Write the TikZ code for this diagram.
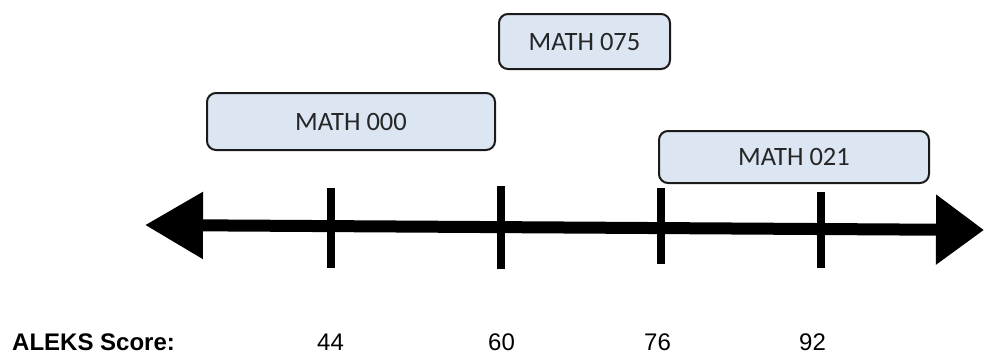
\documentclass[tikz,border=0pt]{standalone}
\usepackage{fontspec}
\setmainfont{Liberation Sans}
\newfontfamily\boxfont{Carlito}
\usetikzlibrary{arrows.meta}
\definecolor{boxfill}{HTML}{DCE6F3}
\definecolor{boxline}{HTML}{1A1A1A}
\tikzset{
  course/.style={draw=boxline, line width=2pt, fill=boxfill, rounded corners=9pt,
    inner sep=0pt, font=\boxfont\fontsize{26.5}{30}\selectfont, text=black!85},
  tickmark/.style={line width=8pt},
  scorelbl/.style={anchor=base, font=\fontsize{24}{28}\selectfont},
}
\begin{document}
\begin{tikzpicture}[x=1pt,y=-1pt]
\useasboundingbox (0,0) rectangle (984,356);
% boxes
\node[course, minimum width=171pt, minimum height=55pt] (m075) at (584.5,41.5) {MATH 075};
\node[course, minimum width=288pt, minimum height=57pt] (m000) at (351,121.5) {MATH 000};
\node[course, minimum width=270pt, minimum height=52pt] (m021) at (794,157) {MATH 021};
% axis
\coordinate (L) at (145,225);
\coordinate (R) at (984,230);
\draw[line width=12pt, {Triangle[length=58pt,width=64pt]}-{Triangle[length=48pt,width=67pt]}] (L) -- (R);
% ticks
\coordinate (t1a) at (331,188); \coordinate (t1b) at (331,268);
\coordinate (t2a) at (501,186); \coordinate (t2b) at (501,269);
\coordinate (t3a) at (661,188); \coordinate (t3b) at (661,264);
\coordinate (t4a) at (821,192); \coordinate (t4b) at (821,268);
\draw[tickmark] (t1a) -- (t1b);
\draw[tickmark] (t2a) -- (t2b);
\draw[tickmark] (t3a) -- (t3b);
\draw[tickmark] (t4a) -- (t4b);
% labels
\node[scorelbl, anchor=base west, font=\bfseries\fontsize{24}{28}\selectfont, inner xsep=0pt] (aleks) at (12,350) {ALEKS Score:};
\node[scorelbl] (s44) at (330.5,350) {44};
\node[scorelbl] (s60) at (501.5,350) {60};
\node[scorelbl] (s76) at (657.5,350) {76};
\node[scorelbl] (s92) at (812.5,350) {92};
\end{tikzpicture}
\end{document}
